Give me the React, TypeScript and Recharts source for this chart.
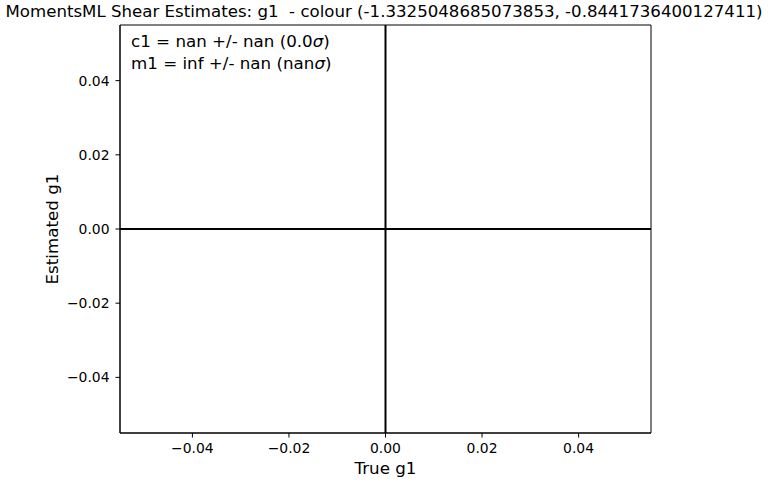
import React from 'react';
import {
  ScatterChart,
  Scatter,
  XAxis,
  YAxis,
  ReferenceLine,
  ReferenceArea,
} from 'recharts';

// Reference chart has no points, only the zero lines and the fit summary
const xTicks = [-0.04, -0.02, 0, 0.02, 0.04];
const yTicks = [-0.04, -0.02, 0, 0.02, 0.04];
const xDomain = [-0.055, 0.055];
const yDomain = [-0.055, 0.055];
const points: { x: number; y: number }[] = [];

const titleText = 'MomentsML Shear Estimates: g1  - colour (-1.3325048685073853, -0.8441736400127411)';
const fitLines = [
  { label: 'c1 = nan +/- nan (', sig: '0.0' },
  { label: 'm1 = inf +/- nan (', sig: 'nan' },
];

const FONT = '"DejaVu Sans", sans-serif';
const BIG = 16.7;

const fmt = (v: number) => (v < 0 ? '\u2212' + Math.abs(v).toFixed(2) : v.toFixed(2));

export default function App() {
  return (
    <div style={{ position: 'absolute', left: 0, top: 0, width: 770, height: 482, background: '#fff' }}>
      <ScatterChart
        width={770}
        height={482}
        margin={{ top: 25, right: 119, bottom: 0, left: 0 }}
        style={{ fontFamily: FONT }}
      >
        <XAxis
          type="number"
          dataKey="x"
          domain={xDomain}
          ticks={xTicks}
          tickFormatter={fmt}
          allowDataOverflow
          height={49}
          tickSize={4.5}
          tickMargin={6}
          stroke="#000"
          tick={{ fill: '#000', fontSize: 13.9 }}
        />
        <YAxis
          type="number"
          dataKey="y"
          domain={yDomain}
          ticks={yTicks}
          tickFormatter={fmt}
          allowDataOverflow
          width={120}
          tickSize={4.5}
          tickMargin={6}
          stroke="#000"
          tick={{ fill: '#000', fontSize: 13.9 }}
        />
        <Scatter data={points} fill="#1f77b4" isAnimationActive={false} />
        <ReferenceArea
          x1={xDomain[0]}
          x2={xDomain[1]}
          y1={yDomain[0]}
          y2={yDomain[1]}
          fill="none"
          fillOpacity={0}
          stroke="#000"
          strokeWidth={1}
          ifOverflow="visible"
        />
        <ReferenceLine x={0} stroke="#000" strokeWidth={2} />
        <ReferenceLine y={0} stroke="#000" strokeWidth={2} />
        <text
          x={5.5}
          y={17}
          fontSize={BIG}
          fill="#000"
          fontFamily={FONT}
          textLength={757}
          lengthAdjust="spacingAndGlyphs"
          style={{ whiteSpace: 'pre' }}
        >
          {titleText}
        </text>
        {fitLines.map((l, i) => (
          <text key={i} x={131} y={47 + i * 22} fontSize={BIG} fill="#000" fontFamily={FONT}>
            {l.label}
            {l.sig}
            <tspan fontStyle="italic">σ</tspan>)
          </text>
        ))}
        <text x={385.5} y={474} textAnchor="middle" fontSize={BIG} fill="#000" fontFamily={FONT}>
          True g1
        </text>
        <text
          x={58}
          y={229}
          textAnchor="middle"
          fontSize={BIG}
          fill="#000"
          fontFamily={FONT}
          transform="rotate(-90 58 229)"
        >
          Estimated g1
        </text>
      </ScatterChart>
    </div>
  );
}
